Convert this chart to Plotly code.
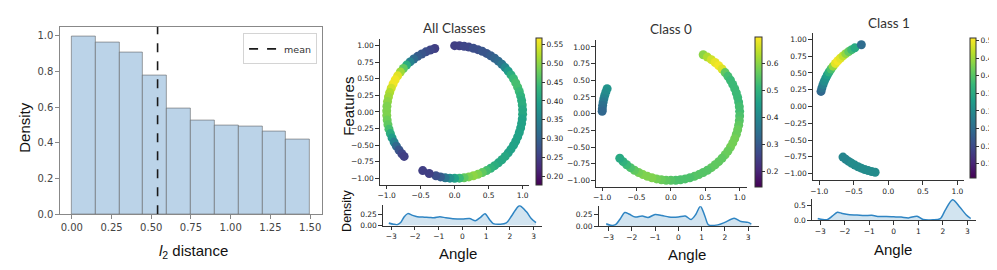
import numpy as np
import plotly.graph_objects as go

W, H = 997, 270

# ---------------- data ----------------
hist_bin_starts = [0.00, 0.15, 0.30, 0.45, 0.60, 0.75, 0.90, 1.05, 1.20, 1.35]
hist_density = [0.995, 0.96, 0.905, 0.775, 0.59, 0.525, 0.495, 0.49, 0.46, 0.42]
hist_bin_width = 0.15
mean_l2 = 0.54
hist_xticks = [0.0, 0.25, 0.5, 0.75, 1.0, 1.25, 1.5]
hist_xticktext = ["0.00", "0.25", "0.50", "0.75", "1.00", "1.25", "1.50"]
hist_yticks = [0.0, 0.2, 0.4, 0.6, 0.8, 1.0]
hist_yticktext = ["0.0", "0.2", "0.4", "0.6", "0.8", "1.0"]

# All classes: angles (deg) of feature points on the unit circle and their colour values
all_right_angles = [90, 86, 82, 78, 74, 70, 66, 62, 58, 54, 50, 46, 42, 38, 34, 30, 26, 22, 18, 14,
                    10, 6, 2, -2, -6, -10, -14, -18, -22, -26, -30, -34, -38, -42, -46, -50, -54, -58,
                    -62, -66, -70, -74, -78, -82, -86, -90, -94, -98, -102, -106, -112, -118]
all_right_values = [0.25, 0.25, 0.26, 0.26, 0.27, 0.27, 0.28, 0.28, 0.29, 0.30,
                    0.31, 0.33, 0.36, 0.39, 0.42, 0.44, 0.45, 0.45, 0.44, 0.43,
                    0.42, 0.42, 0.41, 0.41, 0.40, 0.40, 0.40, 0.40, 0.40, 0.40,
                    0.40, 0.40, 0.40, 0.41, 0.41, 0.41, 0.42, 0.43, 0.45, 0.47,
                    0.49, 0.50, 0.49, 0.47, 0.44, 0.40, 0.37, 0.33, 0.29, 0.27,
                    0.25, 0.25]
all_left_angles = [107, 111, 115, 119, 123, 127, 131, 135, 139, 143, 147, 151, 155, 159, 163,
                   167, 171, 175, 179, 183, 187, 191, 195, 199, 203, 207, 211, 215, 219, 222]
all_left_values = [0.25, 0.26, 0.27, 0.28, 0.29, 0.31, 0.35, 0.42, 0.47, 0.51,
                   0.55, 0.56, 0.56, 0.54, 0.52, 0.51, 0.50, 0.49, 0.49, 0.49,
                   0.48, 0.47, 0.45, 0.42, 0.39, 0.35, 0.31, 0.28, 0.26, 0.25]

# Class 0
c0_left_angles = [158, 161, 164, 167, 170, 173, 176, 178]
c0_left_values = [0.43, 0.42, 0.41, 0.39, 0.37, 0.35, 0.34, 0.33]
c0_main_angles = [62, 58, 54, 50, 46, 42, 38, 34, 30, 26, 22, 18, 14, 10, 6, 2, -2, -6, -10, -14,
                  -18, -22, -26, -30, -34, -38, -42, -46, -50, -54, -58, -62, -66, -70, -74, -78,
                  -82, -86, -90, -94, -98, -102, -106, -110, -114, -118, -122, -126, -130, -134, -138]
c0_main_values = [0.60, 0.63, 0.66, 0.68, 0.69, 0.67, 0.56, 0.53, 0.52, 0.52,
                  0.52, 0.52, 0.52, 0.52, 0.53, 0.53, 0.54, 0.55, 0.56, 0.57,
                  0.57, 0.58, 0.58, 0.58, 0.57, 0.57, 0.56, 0.56, 0.56, 0.56,
                  0.55, 0.55, 0.55, 0.55, 0.54, 0.54, 0.54, 0.54, 0.55, 0.56,
                  0.57, 0.58, 0.59, 0.59, 0.59, 0.58, 0.56, 0.54, 0.52, 0.50,
                  0.48]

# Class 1
c1_upper_angles = [167, 164, 161, 158, 155, 152, 149, 146, 143, 140, 137, 134, 131, 128, 125, 122, 119, 113]
c1_upper_values = [0.24, 0.26, 0.28, 0.30, 0.31, 0.33, 0.36, 0.39, 0.44, 0.49, 0.50, 0.49, 0.47,
                   0.44, 0.41, 0.38, 0.35, 0.25]
c1_lower_angles = [-131, -128, -125, -122, -119, -116, -113, -110, -107, -104, -101]
c1_lower_values = [0.29, 0.29, 0.29, 0.30, 0.30, 0.30, 0.30, 0.30, 0.30, 0.30, 0.30]

# KDE of angles
all_kde_x = [-3.1, -2.9, -2.75, -2.6, -2.45, -2.3, -2.1, -1.9, -1.6, -1.4, -1.2, -0.95, -0.7, -0.4,
             0.0, 0.3, 0.55, 0.75, 0.95, 1.15, 1.3, 1.6, 1.85, 2.1, 2.4, 2.7, 2.9, 3.1]
all_kde_y = [0.06, 0.03, 0.02, 0.07, 0.20, 0.27, 0.23, 0.20, 0.19, 0.185, 0.175, 0.20, 0.175, 0.155,
             0.147, 0.16, 0.11, 0.18, 0.265, 0.13, 0.045, 0.03, 0.06, 0.24, 0.45, 0.31, 0.16, 0.066]
c0_kde_x = [-3.1, -2.9, -2.7, -2.5, -2.3, -2.1, -1.85, -1.55, -1.3, -1.0, -0.7, -0.4, 0.0, 0.3,
            0.55, 0.75, 0.95, 1.15, 1.3, 1.7, 2.0, 2.4, 2.7, 3.0, 3.14]
c0_kde_y = [0.053, 0.02, 0.033, 0.15, 0.28, 0.245, 0.19, 0.21, 0.18, 0.24, 0.22, 0.19, 0.19, 0.21,
            0.14, 0.24, 0.41, 0.20, 0.03, 0.03, 0.08, 0.165, 0.10, 0.08, 0.046]
c1_kde_x = [-3.1, -2.9, -2.7, -2.5, -2.3, -2.1, -1.8, -1.5, -1.2, -0.9, -0.6, -0.3, 0.0, 0.3,
            0.6, 0.95, 1.2, 1.6, 1.9, 2.1, 2.4, 2.7, 2.95, 3.14]
c1_kde_y = [0.064, 0.03, 0.03, 0.15, 0.27, 0.23, 0.19, 0.18, 0.16, 0.17, 0.13, 0.13, 0.12, 0.11,
            0.085, 0.14, 0.03, 0.02, 0.06, 0.34, 0.68, 0.43, 0.19, 0.064]

circ_xticks = [-1.0, -0.5, 0.0, 0.5, 1.0]
circ_xticktext = ["\u22121.0", "\u22120.5", "0.0", "0.5", "1.0"]
circ_yticks = [-1.0, -0.75, -0.5, -0.25, 0.0, 0.25, 0.5, 0.75, 1.0]
circ_yticktext = ["\u22121.00", "\u22120.75", "\u22120.50", "\u22120.25", "0.00", "0.25", "0.50", "0.75", "1.00"]
kde_xticks = [-3, -2, -1, 0, 1, 2, 3]
kde_xticktext = ["\u22123", "\u22122", "\u22121", "0", "1", "2", "3"]

cb_all_ticks = [0.20, 0.25, 0.30, 0.35, 0.40, 0.45, 0.50, 0.55]
cb_c0_ticks = [0.2, 0.3, 0.4, 0.5, 0.6]
cb_c1_ticks = [0.15, 0.20, 0.25, 0.30, 0.35, 0.40, 0.45, 0.50]

# ---------------- helpers ----------------
def fx(p):
    return p / W


def fy(p):
    return 1 - p / H


TICKFONT = dict(family="DejaVu Sans", size=7.5, color="#222")


def axis(domain, rng, tv, tt, anchor, font=TICKFONT, lc="#333", mirror=False):
    return dict(domain=domain, range=rng, tickvals=tv, ticktext=tt, anchor=anchor,
                showgrid=False, zeroline=False, showline=True, linecolor=lc, linewidth=1,
                mirror=mirror, ticks="outside", ticklen=3.5, tickwidth=1, tickcolor=lc,
                tickfont=font, fixedrange=True)


def ring_trace(angles, values, xa, ya, cmin, cmax, cbx, cby0, cby1, cbw, cbticks, cbfmt):
    a = np.radians(np.array(angles, dtype=float))
    return go.Scatter(
        x=np.cos(a), y=np.sin(a), xaxis=xa, yaxis=ya, mode="markers", showlegend=False,
        marker=dict(size=9, color=values, colorscale="Viridis", cmin=cmin, cmax=cmax,
                    line=dict(width=0),
                    colorbar=dict(x=fx(cbx), xanchor="left", xref="paper", xpad=0, ypad=0,
                                  y=fy(cby1), yanchor="bottom", yref="paper",
                                  len=(cby1 - cby0) / H, lenmode="fraction",
                                  thickness=cbw, thicknessmode="pixels",
                                  outlinewidth=1, outlinecolor="#333",
                                  ticks="outside", ticklen=3, tickwidth=1, tickcolor="#333",
                                  tickvals=cbticks, ticktext=[cbfmt.format(v) for v in cbticks],
                                  tickfont=TICKFONT)),
    )


def kde_trace(x, y, xa, ya):
    return go.Scatter(x=x, y=y, xaxis=xa, yaxis=ya, mode="lines", showlegend=False,
                      line=dict(shape="spline", smoothing=0.8, color="#2f85c3", width=1.5),
                      fill="tozeroy", fillcolor="rgba(31,119,180,0.2)")


fig = go.Figure()

# ---------------- histogram ----------------
fig.add_trace(go.Bar(x=hist_bin_starts, y=hist_density, width=hist_bin_width, offset=0,
                     marker=dict(color="rgb(187,211,232)", line=dict(color="rgba(90,90,90,0.55)", width=1)),
                     showlegend=False, xaxis="x", yaxis="y"))
fig.add_trace(go.Scatter(x=[mean_l2, mean_l2], y=[0, 1.05], mode="lines", name="mean",
                         line=dict(color="#1a1a1a", width=1.6, dash="dash"),
                         xaxis="x", yaxis="y", showlegend=True))

# ---------------- rings ----------------
fig.add_trace(ring_trace(all_right_angles + all_left_angles, all_right_values + all_left_values,
                         "x2", "y2", 0.177, 0.567, 527, 30.7, 181, 6, cb_all_ticks, "{:.2f}"))
fig.add_trace(ring_trace(c0_left_angles + c0_main_angles, c0_left_values + c0_main_values,
                         "x3", "y3", 0.144, 0.699, 746.7, 29.3, 182.7, 6.5, cb_c0_ticks, "{:.1f}"))
fig.add_trace(ring_trace(c1_upper_angles + c1_lower_angles, c1_upper_values + c1_lower_values,
                         "x4", "y4", 0.108, 0.506, 962.3, 31, 174.3, 6, cb_c1_ticks, "{:.2f}"))

# ---------------- KDEs ----------------
fig.add_trace(kde_trace(all_kde_x, all_kde_y, "x5", "y5"))
fig.add_trace(kde_trace(c0_kde_x, c0_kde_y, "x6", "y6"))
fig.add_trace(kde_trace(c1_kde_x, c1_kde_y, "x7", "y7"))

HISTFONT = dict(family="DejaVu Sans", size=10, color="#444")

layout = dict(
    width=W, height=H, margin=dict(l=0, r=0, t=0, b=0),
    paper_bgcolor="white", plot_bgcolor="white",
    font=dict(family="DejaVu Sans", color="#222"),
    bargap=0,
    xaxis=axis([fx(49), fx(312)], [-0.075, 1.575], hist_xticks, hist_xticktext, "y",
               font=HISTFONT, lc="#888", mirror=True),
    yaxis=axis([fy(211), fy(19)], [0, 1.05], hist_yticks, hist_yticktext, "x",
               font=HISTFONT, lc="#888", mirror=True),
    xaxis2=axis([fx(370), fx(520)], [-1.1, 1.1], circ_xticks, circ_xticktext, "y2"),
    yaxis2=axis([fy(181), fy(31.7)], [-1.1, 1.1], circ_yticks, circ_yticktext, "x2"),
    xaxis3=axis([fx(586.7), fx(737.8)], [-1.09, 1.1], circ_xticks, circ_xticktext, "y3"),
    yaxis3=axis([fy(182.7), fy(33)], [-1.094, 1.1], circ_yticks, circ_yticktext, "x3"),
    xaxis4=axis([fx(804.3), fx(956.2)], [-1.092, 1.1], circ_xticks, circ_xticktext, "y4"),
    yaxis4=axis([fy(176), fy(26)], [-1.098, 1.09], circ_yticks, circ_yticktext, "x4"),
    xaxis5=axis([fx(373), fx(533)], [-3.35, 3.37], kde_xticks, kde_xticktext, "y5"),
    yaxis5=axis([fy(222.5), fy(201.7)], [0, 0.46], [0, 0.25], ["0.00", "0.25"], "x5"),
    xaxis6=axis([fx(589.3), fx(750)], [-3.43, 3.46], kde_xticks, kde_xticktext, "y6"),
    yaxis6=axis([fy(223.3), fy(202.7)], [0, 0.41], [0, 0.25], ["0.00", "0.25"], "x6"),
    xaxis7=axis([fx(803.3), fx(968.3)], [-3.34, 3.37], kde_xticks, kde_xticktext, "y7"),
    yaxis7=axis([fy(217.3), fy(195.3)], [0, 0.705], [0, 0.5], ["0.0", "0.5"], "x7"),
    legend=dict(x=fx(307), y=fy(26), xanchor="right", yanchor="top",
                bordercolor="#d4d4d4", borderwidth=1, bgcolor="white",
                font=dict(family="DejaVu Sans", size=9.5, color="#333"),
                itemwidth=30, tracegroupgap=0),
)
fig.update_layout(**layout)

LABEL = "Liberation Sans"
TITLE = "Lato"


def ann(text, x, y, size, family=LABEL, angle=0, color="#111"):
    fig.add_annotation(text=text, x=fx(x), y=fy(y), xref="paper", yref="paper",
                       showarrow=False, textangle=angle, xanchor="center", yanchor="middle",
                       font=dict(family=family, size=size, color=color))


ann("Density", 13.5, 122, 15, angle=-90)
ann("<i>l</i><sub>2</sub> distance", 183, 249, 15)
ann("All Classes", 445, 20, 13.5, family=TITLE, color="#333")
ann("Class 0", 662, 21, 13.5, family=TITLE, color="#333")
ann("Class 1", 881, 15, 13.5, family=TITLE, color="#333")
ann("Features", 339, 100, 15, angle=-90)
ann("Density", 337.5, 207, 12.5, angle=-90)
ann("Angle", 448, 251, 15)
ann("Angle", 678.5, 252, 15)
ann("Angle", 884.5, 246.5, 15)

fig.write_html("out.html")
